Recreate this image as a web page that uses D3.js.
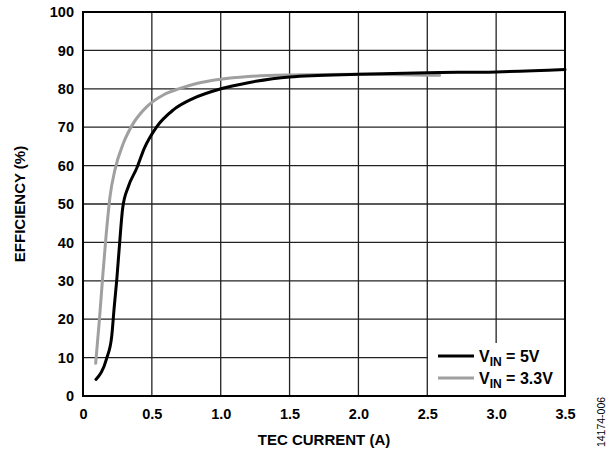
<!DOCTYPE html>
<html>
<head>
<meta charset="utf-8">
<script src="https://cdn.jsdelivr.net/npm/d3@7"></script>
<style>
  html, body { margin: 0; padding: 0; background: #fff; }
  svg { display: block; font-family: "Liberation Sans", Arial, sans-serif; }
</style>
</head>
<body>
<svg id="chart" width="616" height="451"></svg>
<script>
// TEC current (A) vs efficiency (%)
const vin5 = [
  [0.094, 4.3], [0.172, 9.8], [0.208, 15.4], [0.227, 23.3], [0.245, 30.2],
  [0.264, 38.9], [0.288, 48.9], [0.329, 54.5], [0.39, 59.3], [0.445, 64.5],
  [0.535, 70.1], [0.656, 74.5], [0.801, 77.5], [1.0, 80.0], [1.2, 81.6],
  [1.5, 83.1], [2.0, 83.8], [2.5, 84.2], [3.0, 84.4], [3.5, 85.0]
];
const vin33 = [
  [0.092, 8.5], [0.119, 19.8], [0.143, 31.1], [0.167, 41.5], [0.196, 51.9],
  [0.232, 58.9], [0.293, 65.8], [0.365, 71.0], [0.462, 75.3], [0.583, 78.4],
  [0.704, 80.1], [0.825, 81.4], [1.0, 82.5], [1.2, 83.2], [1.5, 83.6],
  [2.0, 83.8], [2.59, 83.5]
];
const xTicks = [0, 0.5, 1.0, 1.5, 2.0, 2.5, 3.0, 3.5];
const yTicks = [0, 10, 20, 30, 40, 50, 60, 70, 80, 90, 100];
const seriesNames = ["5V", "3.3V"];
const seriesColors = ["#000000", "#a0a0a0"];

const svg = d3.select("#chart");
const plotL = 83, plotR = 565, plotT = 12, plotB = 396;

const x = d3.scaleLinear().domain([0, 3.5]).range([plotL, plotR]);
const y = d3.scaleLinear().domain([0, 100]).range([plotB, plotT]);

// grid
svg.append("g")
  .selectAll("line")
  .data(xTicks)
  .join("line")
  .attr("x1", d => x(d)).attr("x2", d => x(d))
  .attr("y1", plotT).attr("y2", plotB)
  .style("stroke", "#222").style("stroke-width", 1.3);

svg.append("g")
  .selectAll("line")
  .data(yTicks)
  .join("line")
  .attr("x1", plotL).attr("x2", plotR)
  .attr("y1", d => y(d)).attr("y2", d => y(d))
  .style("stroke", "#222").style("stroke-width", 1.3);

// axes labels
const xAxis = svg.append("g")
  .attr("transform", `translate(0,${plotB})`)
  .call(d3.axisBottom(x).tickValues(xTicks).tickSize(0).tickPadding(13)
    .tickFormat(d => d === 0 ? "0" : d3.format(".1f")(d)));
xAxis.select(".domain").remove();
xAxis.selectAll("text")
  .style("font-size", "14.5px").style("font-weight", "bold").style("fill", "#000");

const yAxis = svg.append("g")
  .attr("transform", `translate(${plotL},0)`)
  .call(d3.axisLeft(y).tickValues(yTicks).tickSize(0).tickPadding(9));
yAxis.select(".domain").remove();
yAxis.selectAll("text")
  .style("font-size", "14.5px").style("font-weight", "bold").style("fill", "#000");

// curves
const line = d3.line()
  .x(d => x(d[0]))
  .y(d => y(d[1]))
  .curve(d3.curveMonotoneX);

[vin33, vin5].forEach((data, i) => {
  svg.append("path")
    .attr("d", line(data))
    .style("fill", "none")
    .style("stroke", i === 0 ? seriesColors[1] : seriesColors[0])
    .style("stroke-width", 3)
    .style("stroke-linejoin", "round")
    .style("stroke-linecap", "round");
});

// legend
const legend = svg.append("g");
legend.append("rect")
  .attr("x", 428).attr("y", 343).attr("width", 136).attr("height", 52)
  .style("fill", "#fff");

seriesNames.forEach((name, i) => {
  const ly = 356 + i * 22;
  legend.append("line")
    .attr("x1", 438).attr("x2", 474).attr("y1", ly).attr("y2", ly)
    .style("stroke", seriesColors[i]).style("stroke-width", 3);
  const t = legend.append("text")
    .attr("x", 479).attr("y", ly + 6)
    .style("font-size", "16px").style("font-weight", "bold");
  t.append("tspan").text("V");
  t.append("tspan").attr("dy", 4).style("font-size", "12px").text("IN");
  t.append("tspan").attr("dy", -4).text(" = " + name);
});

// frame
svg.append("rect")
  .attr("x", plotL).attr("y", plotT)
  .attr("width", plotR - plotL).attr("height", plotB - plotT)
  .style("fill", "none").style("stroke", "#000").style("stroke-width", 2);

// titles
svg.append("text")
  .attr("x", (plotL + plotR) / 2).attr("y", 445)
  .attr("text-anchor", "middle")
  .style("font-size", "15px").style("font-weight", "bold")
  .text("TEC CURRENT (A)");

svg.append("text")
  .attr("transform", `translate(25,${(plotT + plotB) / 2}) rotate(-90)`)
  .attr("text-anchor", "middle")
  .style("font-size", "15px").style("font-weight", "bold")
  .text("EFFICIENCY (%)");

svg.append("text")
  .attr("transform", "translate(605,422) rotate(-90)")
  .attr("text-anchor", "middle")
  .style("font-size", "10.5px")
  .text("14174-006");
</script>
</body>
</html>
